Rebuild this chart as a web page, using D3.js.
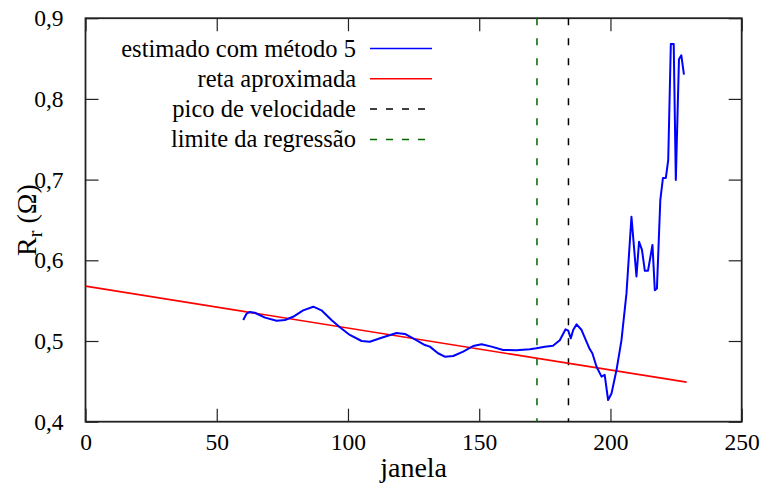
<!DOCTYPE html>
<html>
<head>
<meta charset="utf-8">
<script src="https://cdn.jsdelivr.net/npm/d3@7"></script>
<style>
  html, body { margin: 0; padding: 0; background: #fff; }
  svg { display: block; }
  svg text { font-family: "Liberation Serif", "Times New Roman", Times, "DejaVu Serif", serif !important; fill: #000; }
</style>
</head>
<body>
<svg id="chart" width="769" height="488" style="font-family: 'Liberation Serif', serif;"></svg>
<script>
// ---- data ----
const janela = [60.1, 61.4, 62.6, 64.5, 68.4, 72.8, 76, 79.1, 82.9, 86.8, 89.9, 93.7, 96.9, 100.7,
  105.2, 108.3, 112.8, 118.5, 121.7, 125.5, 129.3, 131.2, 134.3, 136.9, 140.1, 143.9, 147.7, 150.9,
  154.7, 159.1, 164.2, 169.3, 171.8, 175, 178.1, 180.7, 182.9, 183.9, 184.9, 185.8, 187.1, 189,
  190.9, 192.1, 193.1, 194.7, 196.6, 197.8, 199.1, 200.4, 202.3, 204.2, 206.1, 208, 209.9, 210.9,
  212, 213.1, 214.3, 216, 216.9, 217.7, 219, 220, 221.1, 222, 223, 224.1, 224.9, 226.1, 227, 228];
const rEstimado = [0.526, 0.534, 0.536, 0.535, 0.529, 0.525, 0.526, 0.530, 0.538, 0.5425, 0.538, 0.526,
  0.517, 0.5075, 0.500, 0.499, 0.504, 0.510, 0.5087, 0.502, 0.495, 0.493, 0.4848, 0.4806, 0.4814,
  0.4868, 0.4938, 0.4959, 0.493, 0.4889, 0.4885, 0.4897, 0.491, 0.493, 0.4942, 0.501, 0.5145, 0.5128,
  0.5033, 0.5136, 0.5207, 0.5136, 0.499, 0.490, 0.4848, 0.468, 0.4558, 0.458, 0.4269, 0.435, 0.464,
  0.501, 0.559, 0.654, 0.58, 0.623, 0.613, 0.587, 0.587, 0.619, 0.563, 0.565, 0.675, 0.702, 0.702,
  0.724, 0.868, 0.868, 0.6995, 0.849, 0.854, 0.83];
const retaX = [0, 229];
const retaY = [0.568, 0.449];
const picoVelocidade = 184;
const limiteRegressao = 172;
const xTicks = [0, 50, 100, 150, 200, 250];
const yTicks = [0.4, 0.5, 0.6, 0.7, 0.8, 0.9];
const legendLabels = ["estimado com método 5", "reta aproximada", "pico de velocidade", "limite da regressão"];

// ---- layout ----
const FONT = "'Liberation Serif', 'Times New Roman', serif";
const svg = d3.select("#chart");
const L = 85.5, R = 741.7, T = 18.2, B = 421.7;
const x = d3.scaleLinear().domain([0, 250]).range([L, R]);
const y = d3.scaleLinear().domain([0.4, 0.9]).range([B, T]);
const fmt = d => d3.format(".1f")(d).replace(".", ",");

// axes with inward ticks
const tickLen = 13;
const axB = svg.append("g").attr("transform", `translate(0,${B})`)
  .call(d3.axisBottom(x).tickValues(xTicks).tickSizeInner(-tickLen).tickSizeOuter(0).tickPadding(24));
const axT = svg.append("g").attr("transform", `translate(0,${T})`)
  .call(d3.axisTop(x).tickValues(xTicks).tickSizeInner(-tickLen).tickSizeOuter(0).tickFormat(""));
const axL = svg.append("g").attr("transform", `translate(${L},0)`)
  .call(d3.axisLeft(y).tickValues(yTicks).tickSizeInner(-tickLen).tickSizeOuter(0).tickPadding(22).tickFormat(fmt));
const axR = svg.append("g").attr("transform", `translate(${R},0)`)
  .call(d3.axisRight(y).tickValues(yTicks).tickSizeInner(-tickLen).tickSizeOuter(0).tickFormat(""));
[axB, axT, axL, axR].forEach(a => {
  a.attr("font-family", FONT).attr("font-size", 23.5);
  a.select(".domain").remove();
  a.selectAll(".tick line").attr("stroke", "#222").attr("stroke-width", 1.2);
  a.selectAll("text").style("font-family", FONT).attr("font-size", 23.5).attr("fill", "#000");
});
axB.selectAll("text").attr("dy", "0.2em");

// frame
svg.append("rect").attr("x", L).attr("y", T).attr("width", R - L).attr("height", B - T)
  .attr("fill", "none").attr("stroke", "#222").attr("stroke-width", 1.8);

// vertical dashed lines
svg.append("line").attr("x1", x(limiteRegressao)).attr("x2", x(limiteRegressao))
  .attr("y1", T).attr("y2", B).attr("stroke", "#006400").attr("stroke-width", 1.5)
  .attr("stroke-dasharray", "7,13");
svg.append("line").attr("x1", x(picoVelocidade)).attr("x2", x(picoVelocidade))
  .attr("y1", T).attr("y2", B).attr("stroke", "#000").attr("stroke-width", 1.5)
  .attr("stroke-dasharray", "7,13");

// regression line
svg.append("path").datum(d3.zip(retaX, retaY))
  .attr("d", d3.line().x(d => x(d[0])).y(d => y(d[1])))
  .attr("fill", "none").attr("stroke", "#ff0000").attr("stroke-width", 1.6);

// estimated curve
svg.append("path").datum(d3.zip(janela, rEstimado))
  .attr("d", d3.line().x(d => x(d[0])).y(d => y(d[1])))
  .attr("fill", "none").attr("stroke", "#0000ff").attr("stroke-width", 2)
  .attr("stroke-linejoin", "round");

// legend
const legStyles = [
  { stroke: "#0000ff", dash: null },
  { stroke: "#ff0000", dash: null },
  { stroke: "#000", dash: "7,9" },
  { stroke: "#006400", dash: "7,9" }
];
const legTextX = 356, legLineX1 = 370, legLineX2 = 432, legY0 = 48.5, legDy = 30.3;
legendLabels.forEach((lab, i) => {
  const yy = legY0 + i * legDy;
  svg.append("text").attr("x", legTextX).attr("y", yy).attr("dy", "0.33em")
    .attr("text-anchor", "end").style("font-family", FONT).attr("font-size", 24.5).text(lab);
  svg.append("line").attr("x1", legLineX1).attr("x2", legLineX2).attr("y1", yy).attr("y2", yy)
    .attr("stroke", legStyles[i].stroke).attr("stroke-width", 1.5)
    .attr("stroke-dasharray", legStyles[i].dash);
});

// axis labels
svg.append("text").attr("x", (L + R) / 2).attr("y", 477).attr("text-anchor", "middle")
  .style("font-family", FONT).attr("font-size", 28).text("janela");
const yl = svg.append("text").attr("transform", "translate(36,220) rotate(-90)")
  .attr("text-anchor", "middle").style("font-family", FONT).attr("font-size", 28);
yl.append("tspan").text("R");
yl.append("tspan").attr("font-size", 20).attr("dy", 6).text("r");
yl.append("tspan").attr("dy", -6).text(" (Ω)");
</script>
</body>
</html>
